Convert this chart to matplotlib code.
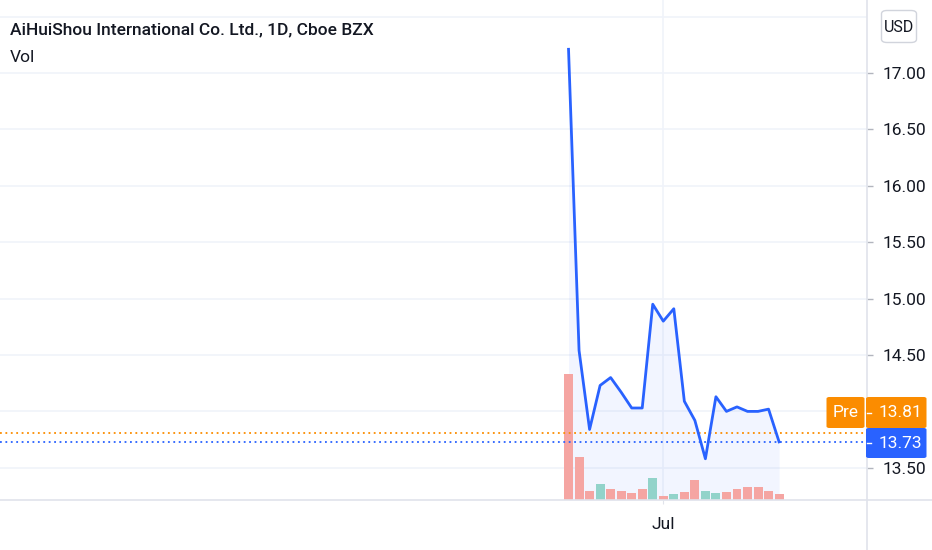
import matplotlib
matplotlib.use('Agg')
import matplotlib.pyplot as plt
from matplotlib.patches import FancyBboxPatch
from matplotlib.lines import Line2D
from matplotlib.transforms import blended_transform_factory

# ---------------- data ----------------
dates = ['2021-06-18', '2021-06-21', '2021-06-22', '2021-06-23', '2021-06-24',
         '2021-06-25', '2021-06-28', '2021-06-29', '2021-06-30', '2021-07-01',
         '2021-07-02', '2021-07-06', '2021-07-07', '2021-07-08', '2021-07-09',
         '2021-07-12', '2021-07-13', '2021-07-14', '2021-07-15', '2021-07-16',
         '2021-07-19']
close = [17.21, 14.54, 13.84, 14.23, 14.30, 14.17, 14.03, 14.03, 14.95, 14.80,
         14.91, 14.09, 13.92, 13.58, 14.13, 14.00, 14.04, 14.00, 14.00, 14.02, 13.73]
volume = [3140, 1080, 233, 408, 275, 233, 183, 275, 550, 100,
          143, 193, 500, 233, 183, 193, 275, 318, 318, 233, 143]
direction = ['down', 'down', 'down', 'up', 'down', 'down', 'down', 'down', 'up', 'down',
             'up', 'down', 'down', 'up', 'up', 'down', 'down', 'down', 'down', 'down', 'down']
price_ticks = [13.50, 14.00, 14.50, 15.00, 15.50, 16.00, 16.50, 17.00]
hidden_ticks = [14.00]   # covered by the price labels in the reference
grid_prices = [13.50, 14.00, 14.50, 15.00, 15.50, 16.00, 16.50, 17.00, 17.50]
x_tick_label = 'Jul'
x_tick_date = '2021-07-01'
last_price = 13.73
pre_price = 13.81
title = 'AiHuiShou International Co. Ltd., 1D, Cboe BZX'
currency = 'USD'

# ---------------- style ----------------
W, H = 932, 550
FONT = ['Roboto', 'DejaVu Sans']
BLUE = '#2962ff'
ORANGE = '#fb8c00'
RED_V = '#f5a5a2'
GRN_V = '#92d3ca'
GRID = '#f0f3fa'
BORDER = '#e0e3eb'
TXT = '#131722'
FS = 12.5

plt.rcParams['font.family'] = FONT

fig = plt.figure(figsize=(W / 100, H / 100), dpi=100)
fig.patch.set_facecolor('white')

def fx(x):
    return x / W

def fy(y):
    return 1 - y / H

plot_right = 867
plot_bottom = 500
ax = fig.add_axes([0, fy(plot_bottom), fx(plot_right), 1 - fy(plot_bottom)])
axv = ax.twinx()
ax.set_zorder(axv.get_zorder() + 1)
ax.patch.set_visible(False)

x = list(range(len(close)))
YMIN, YMAX = 13.2145, 17.647
XMIN, XMAX = -54.0, 28.35
ax.set_ylim(YMIN, YMAX)
ax.set_xlim(XMIN, XMAX)
axv.set_xlim(XMIN, XMAX)

# grid + area on the lower (volume) axes so they sit under the bars
hblend = blended_transform_factory(axv.transAxes, ax.transData)
for p in grid_prices:
    axv.plot([0, 1], [p, p], color=GRID, lw=1.2, zorder=0, transform=hblend)
jul_idx = dates.index(x_tick_date)
axv.axvline(jul_idx, color=GRID, lw=1.2, zorder=0)
axv.fill_between(x, close, YMIN, color=BLUE, alpha=0.06, lw=0, zorder=1,
                 transform=ax.transData)

# volume
vcols = [GRN_V if d == 'up' else RED_V for d in direction]
axv.bar(x, volume, width=0.85, color=vcols, zorder=2)
axv.set_ylim(0, max(volume) * 500 / 125.7)
axv.set_xlim(XMIN, XMAX)
axv.set_yticks([])
for s in axv.spines.values():
    s.set_visible(False)

# line
ax.plot(x, close, color=BLUE, lw=2.0, zorder=4, solid_joinstyle='round')

# price lines
ax.axhline(pre_price, color=ORANGE, lw=1.3, ls=(0, (1, 2)), zorder=3)
ax.axhline(last_price, color=BLUE, lw=1.3, ls=(0, (1, 2)), zorder=3)

# ticks
ax.set_yticks(price_ticks)
ax.yaxis.tick_right()
ax.set_yticklabels(['' if p in hidden_ticks else f'{p:.2f}' for p in price_ticks],
                   fontsize=FS, color=TXT)
ax.tick_params(axis='y', length=4, width=1, color='#b2b5be', pad=7, direction='out')
ax.set_xticks([jul_idx])
ax.set_xticklabels([x_tick_label], fontsize=FS, color=TXT)
ax.tick_params(axis='x', length=3, color=BORDER, pad=9)
for s in ax.spines.values():
    s.set_visible(False)

# borders
fig.add_artist(Line2D([fx(plot_right), fx(plot_right)], [0, 1], color=BORDER, lw=1.2))
fig.add_artist(Line2D([0, 1], [fy(plot_bottom), fy(plot_bottom)], color=BORDER, lw=1.2))

# titles
fig.text(fx(10), fy(30), title, fontsize=FS, color=TXT, va='center', ha='left', fontweight='medium')
fig.text(fx(10), fy(58), 'Vol', fontsize=FS, color=TXT, va='center', ha='left')

def label_box(x0, y0, x1, y1, color):
    fig.add_artist(FancyBboxPatch((fx(x0), fy(y1)), fx(x1 - x0), (y1 - y0) / H,
                                  boxstyle='round,pad=0,rounding_size=0.003',
                                  fc=color, ec='none', transform=fig.transFigure, zorder=10))

# Pre label (pushed up above the last-price label)
label_box(826.5, 397, 864.5, 428, ORANGE)
fig.text(fx(845.5), fy(412.5), 'Pre', color='white', fontsize=FS, ha='center', va='center', zorder=11)
label_box(866, 397, 926.5, 428, ORANGE)
fig.add_artist(Line2D([fx(867), fx(871)], [fy(412.5), fy(412.5)], color='white', lw=1, zorder=11))
fig.text(fx(879), fy(412.5), f'{pre_price:.2f}', color='white', fontsize=FS, ha='left', va='center', zorder=11)

label_box(866, 428, 926.5, 458, BLUE)
fig.add_artist(Line2D([fx(867), fx(871)], [fy(443), fy(443)], color='white', lw=1, zorder=11))
fig.text(fx(879), fy(443), f'{last_price:.2f}', color='white', fontsize=FS, ha='left', va='center', zorder=11)

# currency box
fig.add_artist(FancyBboxPatch((fx(881.5), fy(42.5)), fx(35), 32 / H,
                              boxstyle='round,pad=0,rounding_size=0.006',
                              fc='white', ec='#d1d4dc', lw=1, transform=fig.transFigure, zorder=10))
fig.text(fx(899), fy(27), currency, color=TXT, fontsize=11.5, ha='center', va='center', zorder=11)

fig.savefig('out.png', dpi=100, facecolor='white')
